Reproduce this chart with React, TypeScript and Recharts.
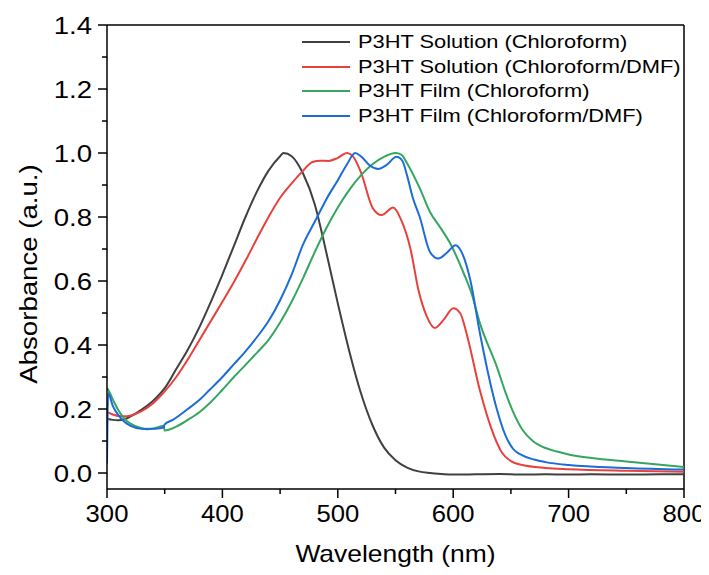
import React from "react";
import { LineChart, Line, XAxis, YAxis, Legend, ReferenceLine } from "recharts";

const FONT = "'Liberation Sans', Arial, Helvetica, sans-serif";
const SX = 1.15;
const SX_XTICK = 1.07;

const wavelengthTicks = [300, 350, 400, 450, 500, 550, 600, 650, 700, 750, 800];
const absorbanceTicks = [0, 0.1, 0.2, 0.3, 0.4, 0.5, 0.6, 0.7, 0.8, 0.9, 1.0, 1.1, 1.2, 1.3, 1.4];

const seriesNames = [
  "P3HT Solution (Chloroform)",
  "P3HT Solution (Chloroform/DMF)",
  "P3HT Film (Chloroform)",
  "P3HT Film (Chloroform/DMF)",
];
const seriesColors = ["#404040", "#e8413c", "#34a65f", "#1c6cd8"];

const solCfX = [300, 305, 310, 315, 320, 330, 340, 350, 360, 370, 380, 390, 400, 410, 420, 430, 440, 450, 453, 460, 470, 480, 490, 500, 510, 520, 530, 540, 550, 560, 570, 580, 590, 600, 620, 640, 660, 680, 700, 720, 750, 780, 800];
const solCfY = [0.17, 0.166, 0.165, 0.168, 0.176, 0.198, 0.226, 0.265, 0.325, 0.385, 0.455, 0.535, 0.62, 0.71, 0.8, 0.88, 0.945, 0.99, 1.0, 0.99, 0.935, 0.84, 0.69, 0.53, 0.38, 0.25, 0.15, 0.08, 0.04, 0.017, 0.005, 0.0, -0.003, -0.005, -0.004, -0.003, -0.005, -0.004, -0.005, -0.004, -0.005, -0.004, -0.004];

const solDmfX = [300, 305, 310, 315, 320, 330, 340, 350, 360, 370, 380, 390, 400, 410, 420, 430, 440, 450, 460, 470, 478, 485, 492, 500, 508, 513, 520, 530, 538, 548, 555, 563, 570, 577, 584, 592, 600, 606, 612, 623, 635, 642, 650, 660, 680, 700, 750, 800];
const solDmfY = [0.19, 0.183, 0.178, 0.177, 0.179, 0.193, 0.218, 0.255, 0.3, 0.355, 0.415, 0.475, 0.535, 0.597, 0.663, 0.733, 0.8, 0.86, 0.905, 0.945, 0.972, 0.976, 0.975, 0.985, 1.0, 0.99, 0.94, 0.83, 0.806, 0.83, 0.79, 0.7, 0.57, 0.49, 0.453, 0.48, 0.515, 0.5, 0.43, 0.26, 0.12, 0.065, 0.037, 0.025, 0.016, 0.012, 0.007, 0.004];

const filmCfX = [300, 301, 305, 310, 315, 320, 330, 335, 340, 349, 350, 360, 370, 380, 390, 400, 410, 420, 430, 440, 450, 460, 470, 480, 490, 500, 510, 520, 530, 540, 550, 555, 560, 571, 580, 589, 597, 609, 616, 623, 638, 645, 652, 660, 669, 680, 690, 700, 720, 750, 800];
const filmCfY = [0.265, 0.26, 0.23, 0.195, 0.17, 0.155, 0.14, 0.138, 0.139, 0.148, 0.133, 0.145, 0.166, 0.19, 0.222, 0.26, 0.3, 0.338, 0.376, 0.416, 0.47, 0.535, 0.61, 0.69, 0.765, 0.83, 0.885, 0.93, 0.965, 0.988, 1.0, 0.995, 0.968, 0.89, 0.815, 0.766, 0.72, 0.625, 0.56, 0.47, 0.33, 0.255, 0.19, 0.135, 0.1, 0.078, 0.067, 0.058, 0.047, 0.036, 0.019];

const filmDmfX = [300, 301, 305, 310, 315, 320, 330, 335, 340, 349, 350, 357, 370, 380, 389, 400, 410, 420, 430, 440, 450, 460, 470, 480, 490, 500, 508, 515, 520, 528, 535, 542, 551, 556, 560, 565, 571, 580, 587, 595, 602, 608, 615, 623, 638, 645, 652, 660, 670, 680, 700, 750, 800];
const filmDmfY = [0.03, 0.25, 0.21, 0.18, 0.16, 0.148, 0.138, 0.137, 0.138, 0.142, 0.152, 0.166, 0.2, 0.228, 0.26, 0.3, 0.34, 0.38, 0.425, 0.475, 0.54, 0.62, 0.715, 0.785, 0.855, 0.915, 0.965, 1.0, 0.99, 0.96, 0.95, 0.962, 0.988, 0.975, 0.93, 0.86, 0.8, 0.69, 0.67, 0.69, 0.712, 0.685, 0.6, 0.44, 0.197, 0.12, 0.075, 0.055, 0.042, 0.034, 0.025, 0.016, 0.011];

const toPoints = (xs: number[], ys: number[]) => xs.map((x, i) => ({ x, y: ys[i] }));
const seriesData = [
  toPoints(solCfX, solCfY),
  toPoints(solDmfX, solDmfY),
  toPoints(filmCfX, filmCfY),
  toPoints(filmDmfX, filmDmfY),
];

const YTick = (props: any) => {
  const { x, y, payload } = props;
  const v = Number(payload.value);
  const major = Math.round(v * 10) % 2 === 0;
  return (
    <g transform={`translate(${x},${y})`}>
      <line x1={0} x2={major ? -9 : -5} y1={0} y2={0} stroke="#000" strokeWidth={1.5} />
      {major && (
        <text transform={`translate(-15,8.6) scale(${SX},1)`} textAnchor="end" fontSize={24} fontFamily={FONT} fill="#000">
          {v.toFixed(1)}
        </text>
      )}
    </g>
  );
};

const XTick = (props: any) => {
  const { x, y, payload } = props;
  const v = Number(payload.value);
  const major = v % 100 === 0;
  return (
    <g transform={`translate(${x},${y})`}>
      <line x1={0} x2={0} y1={0} y2={major ? 9 : 5} stroke="#000" strokeWidth={1.5} />
      {major && (
        <text transform={`translate(0,33) scale(${SX_XTICK},1)`} textAnchor="middle" fontSize={24} fontFamily={FONT} fill="#000">
          {v}
        </text>
      )}
    </g>
  );
};

const XTitle = () => (
  <text transform={`translate(387.5,554) scale(${SX},1)`} textAnchor="middle" fontSize={23} fontFamily={FONT} fill="#000">
    Wavelength (nm)
  </text>
);

const YTitle = () => (
  <text transform={`translate(28.5,266) rotate(-90) scale(${SX},1)`} textAnchor="middle" fontSize={24} fontFamily={FONT} fill="#000">
    Absorbance (a.u.)
  </text>
);

const LegendContent = () => (
  <div style={{ fontFamily: FONT, fontSize: 19, color: "#000" }}>
    {seriesNames.map((name, i) => (
      <div key={name} style={{ display: "flex", alignItems: "center", height: 24.5 }}>
        <span style={{ display: "inline-block", width: 48, height: 2, background: seriesColors[i], marginRight: 8 }} />
        <span style={{ display: "inline-block", transform: `scaleX(${SX})`, transformOrigin: "left center", whiteSpace: "nowrap" }}>
          {name}
        </span>
      </div>
    ))}
  </div>
);

export default function App() {
  return (
    <div style={{ width: 701, height: 559, overflow: "visible", position: "relative" }}>
      <LineChart width={701} height={559} margin={{ top: 17, right: 25, left: 0, bottom: 0 }} style={{ overflow: "visible" }}>
        <XAxis
          dataKey="x"
          type="number"
          domain={[300, 800]}
          ticks={wavelengthTicks}
          interval={0}
          allowDataOverflow
          height={78}
          tickSize={0}
          tickMargin={0}
          tickLine={false}
          axisLine={{ stroke: "#000", strokeWidth: 1.5 }}
          tick={<XTick />}
          label={<XTitle />}
        />
        <YAxis
          type="number"
          domain={[-0.05, 1.4]}
          ticks={absorbanceTicks}
          interval={0}
          allowDataOverflow
          width={99}
          tickSize={0}
          tickMargin={0}
          tickLine={false}
          axisLine={{ stroke: "#000", strokeWidth: 1.5 }}
          tick={<YTick />}
          label={<YTitle />}
        />
        <ReferenceLine y={1.4} stroke="#000" strokeWidth={1.5} />
        <ReferenceLine x={800} stroke="#000" strokeWidth={1.5} />
        <Legend
          layout="vertical"
          align="center"
          verticalAlign="middle"
          content={<LegendContent />}
          wrapperStyle={{ top: 22, left: 294, width: "auto", height: "auto" }}
        />
        {seriesData.map((d, i) => (
          <Line
            key={seriesNames[i]}
            data={d}
            dataKey="y"
            name={seriesNames[i]}
            stroke={seriesColors[i]}
            strokeWidth={2}
            dot={false}
            activeDot={false}
            type="monotone"
            isAnimationActive={false}
          />
        ))}
      </LineChart>
    </div>
  );
}
